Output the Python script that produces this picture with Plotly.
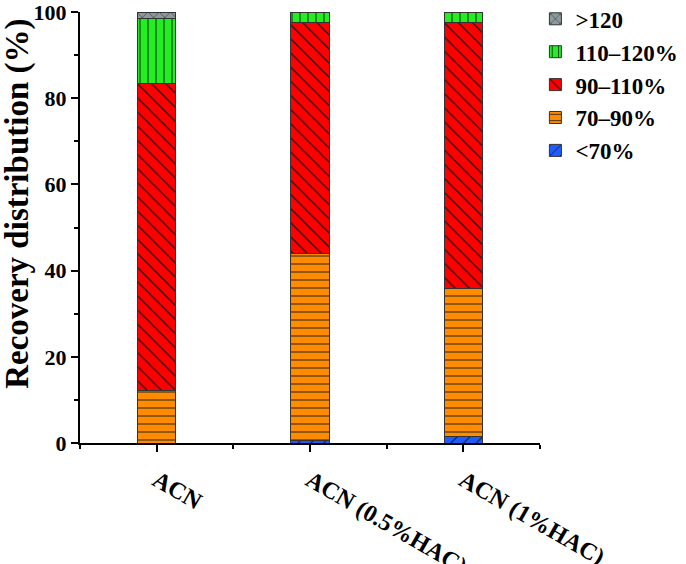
import plotly.graph_objects as go

categories = ["ACN", "ACN (0.5%HAC)", "ACN (1%HAC)"]
x_pos = [0, 1, 2]
series_names = ["<70%", "70–90%", "90–110%", "110–120%", ">120"]
lt70 = [0.0, 0.6, 1.5]
r70_90 = [12.2, 43.3, 34.4]
r90_110 = [71.2, 53.6, 61.6]
r110_120 = [15.0, 2.5, 2.5]
gt120 = [1.6, 0.0, 0.0]
y_ticks = [0, 20, 40, 60, 80, 100]
y_title = "Recovery distribution (%)"

series_values = [lt70, r70_90, r90_110, r110_120, gt120]
colors = ["#1f5cff", "#ff8c00", "#ff0000", "#22ee22", "#8c9a9e"]
shapes = ["/", "-", "\\", "|", "x"]
sizes = [9, 8, 10, 8, 8]

FONT = "Liberation Serif"

fig = go.Figure()
for name, vals, col, shp, sz in zip(series_names, series_values, colors, shapes, sizes):
    fig.add_trace(go.Bar(
        x=x_pos, y=vals, name=name, width=0.25,
        marker=dict(color=col, line=dict(color="#333333", width=1),
                    pattern=dict(shape=shp, fillmode="replace", bgcolor=col,
                                 fgcolor="#1a1a1a", size=sz, solidity=0.12)),
    ))

fig.update_layout(
    barmode="stack",
    width=686, height=564,
    margin=dict(l=80, r=146, t=12, b=121, autoexpand=False),
    plot_bgcolor="white", paper_bgcolor="white",
    font=dict(family=FONT, color="black"),
    legend=dict(x=0.99, y=1.034, xanchor="left", yanchor="top",
                traceorder="reversed", font=dict(size=23, family=FONT, weight="bold"),
                itemwidth=30, tracegroupgap=0, bgcolor="rgba(0,0,0,0)"),
    showlegend=True,
    annotations=[dict(text=y_title, xref="paper", yref="paper", x=-0.136, y=0.556,
                      textangle=-90, showarrow=False, xanchor="center", yanchor="middle",
                      font=dict(size=33, family=FONT, weight="bold", color="black"))],
)
fig.update_xaxes(
    range=[-0.5, 2.5], tickvals=x_pos, ticktext=categories,
    tickangle=30, tickfont=dict(size=24, family=FONT, weight="bold"),
    showline=True, linecolor="black", linewidth=2, ticks="outside", ticklen=7,
    tickwidth=2, tickcolor="black", showgrid=False, zeroline=False,
    ticklabelstandoff=5, automargin=False, ticklabeloverflow="allow",
    minor=dict(tickvals=[-0.5, 0.5, 1.5, 2.5], ticks="outside", ticklen=4,
               tickwidth=2, tickcolor="black"),
)
fig.update_yaxes(
    range=[0, 100], tickvals=y_ticks,
    tickfont=dict(size=22, family=FONT, weight="bold"),
    showline=True, linecolor="black", linewidth=2, ticks="outside", ticklen=7,
    tickwidth=2, tickcolor="black", showgrid=False, zeroline=False,
    automargin=False, ticklabeloverflow="allow",
    minor=dict(tickvals=[10, 30, 50, 70, 90], ticks="outside", ticklen=4,
               tickwidth=2, tickcolor="black"),
)

fig.write_html("out.html", config={"displayModeBar": False},
               post_script="document.body.style.margin='0px';")
